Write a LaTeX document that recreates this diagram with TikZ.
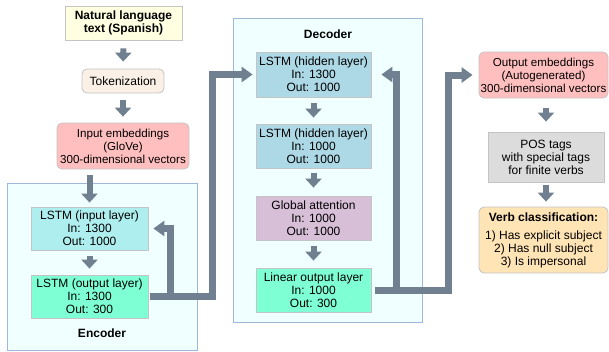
\documentclass[tikz,border=0pt]{standalone}
\usepackage{fontspec}
\setmainfont{Liberation Sans}
\usetikzlibrary{arrows.meta}

\definecolor{conngray}{HTML}{708090}
\definecolor{boxline}{HTML}{C4C4C4}
\definecolor{frameline}{HTML}{9EB8DA}
\definecolor{framefill}{HTML}{F0FFFF}

\begin{document}
\begin{tikzpicture}
[
    x=1pt, y=-1pt,
    every node/.style={font=\fontsize{12}{13}\selectfont, align=center, inner sep=1pt},
    box/.style 2 args={draw=boxline, line width=0.8pt, minimum width=#1, minimum height=#2},
    roundbox/.style 2 args={box={#1}{#2}, rounded corners=5pt},
    embbox/.style 2 args={roundbox={#1}{#2}, fill=pink, font=\fontsize{11.6}{13}\selectfont},
    frame/.style 2 args={draw=frameline, fill=framefill, line width=0.8pt, minimum width=#1, minimum height=#2},
    smallarrow/.style={draw=conngray, line width=6pt, -{Triangle[width=16pt,length=9pt]}, shorten <=6pt, shorten >=6pt},
    feed/.style={draw=conngray, line width=7pt, -{Triangle[width=15pt,length=11pt]}},
]
\useasboundingbox (0,0) rectangle (609,351);

\node [frame={190pt}{167pt}] (encoder) at (102,266.5) {};
\node [frame={189pt}{304pt}] (decoder) at (327.5,170) {};
\node [font=\fontsize{12}{13}\selectfont\bfseries] (enclabel) at (102,333) {Encoder};
\node [font=\fontsize{12}{13}\selectfont\bfseries] (declabel) at (328,34) {Decoder};

\node [box={117pt}{34pt}, fill={rgb,255:red,255;green,255;blue,226}, font=\fontsize{12}{13}\selectfont\bfseries] (natural) at (123.5,23)
{Natural language\\text (Spanish)};
\node [roundbox={82pt}{24pt}, fill={rgb,255:red,250;green,240;blue,230}] (token) at (123,81)
{Tokenization};
\node [embbox={132pt}{46pt}] (inemb) at (123,146)
{Input embeddings\\(GloVe)\\300-dimensional vectors};

\node [box={117pt}{43pt}, fill={rgb,255:red,175;green,238;blue,238}] (lstmin) at (89.5,228.5)
{LSTM (input layer)\\In: 1300\\Out: 1000};
\node [box={117pt}{43pt}, fill={rgb,255:red,127;green,255;blue,212}] (lstmout) at (89.5,296.5)
{LSTM (output layer)\\In: 1300\\Out: 300};

\node [box={115pt}{45pt}, fill={rgb,255:red,173;green,216;blue,230}] (hid1) at (313.5,74.5)
{LSTM (hidden layer)\\In: 1300\\Out: 1000};
\node [box={115pt}{44pt}, fill={rgb,255:red,173;green,216;blue,230}] (hid2) at (313.5,146)
{LSTM (hidden layer)\\In: 1000\\Out: 1000};
\node [box={115pt}{44pt}, fill={rgb,255:red,216;green,191;blue,216}] (attn) at (313.5,218)
{Global attention\\In: 1000\\Out: 1000};
\node [box={115pt}{44pt}, fill={rgb,255:red,127;green,255;blue,212}] (linear) at (313.5,290)
{Linear output layer\\In: 1000\\Out: 300};

\node [embbox={129pt}{46pt}] (outemb) at (543.5,75)
{Output embeddings\\(Autogenerated)\\300-dimensional vectors};
\node [box={116pt}{50pt}, fill={rgb,255:red,220;green,220;blue,220}] (postags) at (546,157)
{POS tags\\with special tags\\for finite verbs};
\node [roundbox={129pt}{66pt}, fill={rgb,255:red,255;green,228;blue,181}] (verbclass) at (543.5,240)
{\textbf{Verb classification:}\\[5pt]1) Has explicit subject\\2) Has null subject\\3) Is impersonal};

\draw [smallarrow, shorten <=8pt, shorten >=7pt] (natural) -- (token);
\draw [smallarrow, shorten <=7pt] (token) -- (inemb);
\draw [smallarrow, shorten >=4pt] (inemb.south -| lstmin.north) -- (lstmin);
\draw [smallarrow] (lstmin) -- (lstmout);
\draw [smallarrow] (hid1) -- (hid2);
\draw [smallarrow, shorten <=5pt, shorten >=8pt] (hid2) -- (attn);
\draw [smallarrow, shorten >=7pt] (attn) -- (linear);
\draw [smallarrow, shorten <=10pt, shorten >=10pt] (outemb.south -| postags.north) -- (postags);
\draw [smallarrow, shorten <=3pt, shorten >=5pt] (postags) -- (postags |- verbclass.north);

\coordinate (encsplit) at (170,296.5);
\coordinate (encup) at (212,296.5);
\coordinate (decsplit) at (396,290);
\coordinate (decup) at (448,290);

\draw [feed, shorten <=2pt, shorten >=3pt] (lstmout.east) -- (encup) |- (hid1.west);
\draw [feed, shorten >=5pt] (encsplit) |- (lstmin.east);
\draw [feed, shorten <=4pt, shorten >=6pt] (linear.east) -- (decup) |- (outemb.west);
\draw [feed, shorten >=10pt] (decsplit) |- (hid1.east);
\end{tikzpicture}
\end{document}
